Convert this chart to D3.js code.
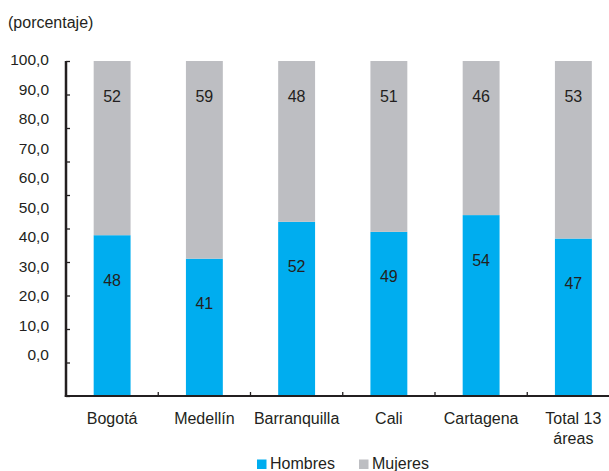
<!DOCTYPE html>
<html>
<head>
<meta charset="utf-8">
<script src="https://cdn.jsdelivr.net/npm/d3@7"></script>
<style>
  html, body { margin: 0; padding: 0; background: #fff; }
  svg { display: block; font-family: "Liberation Sans", Arial, Helvetica, sans-serif; }
</style>
</head>
<body>
<svg id="chart" width="609" height="471"></svg>
<script>
// Distribución por sexo, por ciudad (porcentaje)
const categories = ["Bogotá", "Medellín", "Barranquilla", "Cali", "Cartagena", "Total 13 áreas"];
const hombres = [48, 41, 52, 49, 54, 47];
const mujeres = [52, 59, 48, 51, 46, 53];
const yTickValues = [0, 10, 20, 30, 40, 50, 60, 70, 80, 90, 100];
const yTickLabels = ["0,0", "10,0", "20,0", "30,0", "40,0", "50,0", "60,0", "70,0", "80,0", "90,0", "100,0"];
const seriesNames = ["Hombres", "Mujeres"];

const colors = { Hombres: "#00ADEF", Mujeres: "#BDBEC2" };
const ink = "#231F20";

const svg = d3.select("#chart");

const x0 = 66, x1 = 619.5, yBase = 396, yTop = 61;

const x = d3.scaleBand()
  .domain(categories)
  .range([x0, x1])
  .paddingInner(0.6)
  .paddingOuter(0.3);

const y = d3.scaleLinear().domain([0, 100]).range([yBase, yTop]);
// the printed tick labels sit on a slightly compressed ladder
const yLabel = d3.scaleLinear().domain([0, 100]).range([355, 60]);

const rows = categories.map((c, i) => ({ cat: c, Hombres: hombres[i], Mujeres: mujeres[i] }));
const stacked = d3.stack().keys(seriesNames)(rows);

// Bars
const layers = svg.append("g").selectAll("g")
  .data(stacked)
  .join("g")
  .attr("fill", d => colors[d.key]);

layers.selectAll("rect")
  .data(d => d)
  .join("rect")
  .attr("x", d => x(d.data.cat))
  .attr("width", x.bandwidth())
  .attr("y", d => y(d[1]))
  .attr("height", d => y(d[0]) - y(d[1]));

// Value labels
const vl = svg.append("g")
  .attr("font-size", 16)
  .attr("fill", ink)
  .attr("text-anchor", "middle");

vl.selectAll("text.m")
  .data(rows)
  .join("text")
  .attr("class", "m")
  .attr("x", d => x(d.cat) + x.bandwidth() / 2)
  .attr("y", d => y(100) + 35)
  .attr("dy", "0.35em")
  .text(d => d.Mujeres);

vl.selectAll("text.h")
  .data(rows)
  .join("text")
  .attr("class", "h")
  .attr("x", d => x(d.cat) + x.bandwidth() / 2)
  .attr("y", d => y(d.Hombres) + 45)
  .attr("dy", "0.35em")
  .text(d => d.Hombres);

// Y axis: line with inward ticks
const yAxis = d3.axisRight(y)
  .tickValues(yTickValues)
  .tickSize(4)
  .tickSizeOuter(0)
  .tickFormat("");

const gy = svg.append("g")
  .attr("transform", `translate(${x0},0)`)
  .call(yAxis);
gy.select(".domain").remove();
gy.selectAll(".tick line").attr("stroke", ink).attr("stroke-width", 1.3);
svg.append("line")
  .attr("x1", x0).attr("x2", x0)
  .attr("y1", yTop).attr("y2", yBase + 1)
  .attr("stroke", ink).attr("stroke-width", 2.5);

// Y tick labels
svg.append("g")
  .attr("font-size", 15.5)
  .attr("fill", ink)
  .attr("text-anchor", "end")
  .selectAll("text")
  .data(yTickValues)
  .join("text")
  .attr("x", 49)
  .attr("y", d => yLabel(d))
  .attr("dy", "0.35em")
  .text((d, i) => yTickLabels[i]);

// X axis: baseline with upward ticks at category boundaries
const boundaries = categories.slice(1).map(c => x(c) - (x.step() - x.bandwidth()) / 2);
svg.append("g")
  .selectAll("line")
  .data(boundaries)
  .join("line")
  .attr("x1", d => d).attr("x2", d => d)
  .attr("y1", yBase).attr("y2", yBase - 4)
  .attr("stroke", ink).attr("stroke-width", 1.3);
svg.append("line")
  .attr("x1", x0 - 1.2).attr("x2", 609)
  .attr("y1", yBase).attr("y2", yBase)
  .attr("stroke", ink).attr("stroke-width", 2.2);

// Category labels
const cl = svg.append("g")
  .attr("font-size", 16)
  .attr("fill", ink)
  .attr("text-anchor", "middle")
  .selectAll("text")
  .data(categories)
  .join("text")
  .attr("x", d => x(d) + x.bandwidth() / 2)
  .attr("y", 424);
cl.each(function (d) {
  const t = d3.select(this);
  const parts = d === "Total 13 áreas" ? ["Total 13", "áreas"] : [d];
  parts.forEach((p, i) => {
    t.append("tspan")
      .attr("x", x(d) + x.bandwidth() / 2)
      .attr("dy", i === 0 ? 0 : 19.5)
      .text(p);
  });
});

// Unit label
svg.append("text")
  .attr("x", 8)
  .attr("y", 28)
  .attr("font-size", 16)
  .attr("fill", ink)
  .text("(porcentaje)");

// Legend
const legendX = [257, 359];
const lg = svg.append("g").selectAll("g")
  .data(seriesNames)
  .join("g")
  .attr("transform", (d, i) => `translate(${legendX[i]},459.5)`);
lg.append("rect")
  .attr("width", 9.5).attr("height", 9.5)
  .attr("fill", d => colors[d]);
lg.append("text")
  .attr("x", 13)
  .attr("y", 9.5)
  .attr("font-size", 16)
  .attr("fill", ink)
  .text(d => d);
</script>
</body>
</html>
